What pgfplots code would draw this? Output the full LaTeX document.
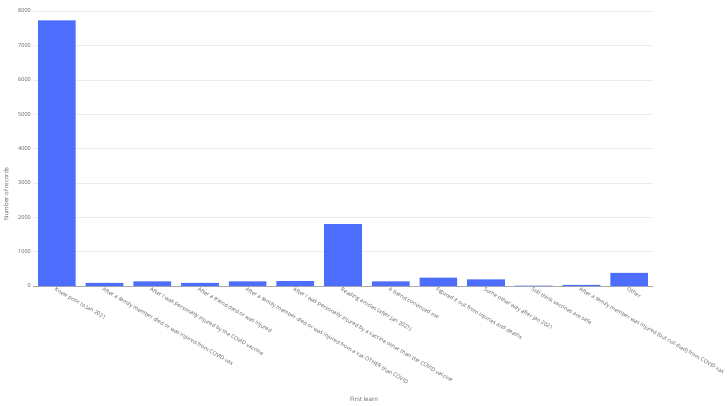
\documentclass[border=0pt]{standalone}
\usepackage{fontspec}
\setmainfont{Open Sans}
\usepackage{pgfplots}
\pgfplotsset{compat=1.18}

\definecolor{barblue}{RGB}{77,110,253}
\definecolor{txtgray}{RGB}{95,95,95}
\definecolor{gridgray}{RGB}{236,236,236}
\definecolor{axisgray}{RGB}{170,170,170}

\begin{document}
\begin{tikzpicture}
\begin{axis}[
    scale only axis,
    width=620pt, height=275pt,
    ymin=0, ymax=8000,
    xmin=-0.5, xmax=12.5,
    ybar, bar shift=0pt, bar width=0.79,
    axis x line*=bottom,
    axis y line*=left,
    x axis line style={draw=axisgray},
    y axis line style={draw=none},
    ymajorgrids, grid style={draw=gridgray},
    major tick length=0pt,
    ytick={0,1000,...,8000},
    scaled y ticks=false,
    /pgf/number format/.cd, fixed, set thousands separator={}, assume math mode=true,
    /pgfplots/.cd,
    xtick={0,...,12},
    xticklabels={
        Knew prior to Jan 2021,
        After a family member died or was injured from COVID vax,
        After I was personally injured by the COVID vaccine,
        After a friend died or was injured,
        After a family member died or was injured from a vax OTHER than COVID,
        After I was personally injured by a vaccine other than the COVID vaccine,
        Reading articles (after Jan 2021),
        A friend convinced me,
        Figured it out from injuries and deaths,
        Some other way after Jan 2021,
        Still think vaccines are safe,
        After a family member was injured (but not died) from COVID vax,
        Other},
    tick label style={font=\fontsize{5.5}{6}\selectfont, text=txtgray},
    x tick label style={rotate=-30, anchor=north west, inner sep=1pt, xshift=-1pt},
    y tick label style={inner sep=2pt},
    xlabel={First learn},
    ylabel={Number of records},
    label style={font=\fontsize{6}{7}\selectfont, text=txtgray},
    xlabel style={at={(axis description cs:0.534,-0.411)}, anchor=center},
    ylabel style={at={(axis description cs:-0.0435,0.335)}, anchor=center, rotate=0},
]
\addplot[fill=barblue, draw=none] coordinates {
    (0,7725) (1,90) (2,135) (3,90) (4,135) (5,145) (6,1800)
    (7,135) (8,245) (9,195) (10,12) (11,30) (12,380)
};
\end{axis}
\pgfresetboundingbox
\path[use as bounding box] (-33pt,-119pt) rectangle (695pt,286pt);
\end{tikzpicture}
\end{document}
